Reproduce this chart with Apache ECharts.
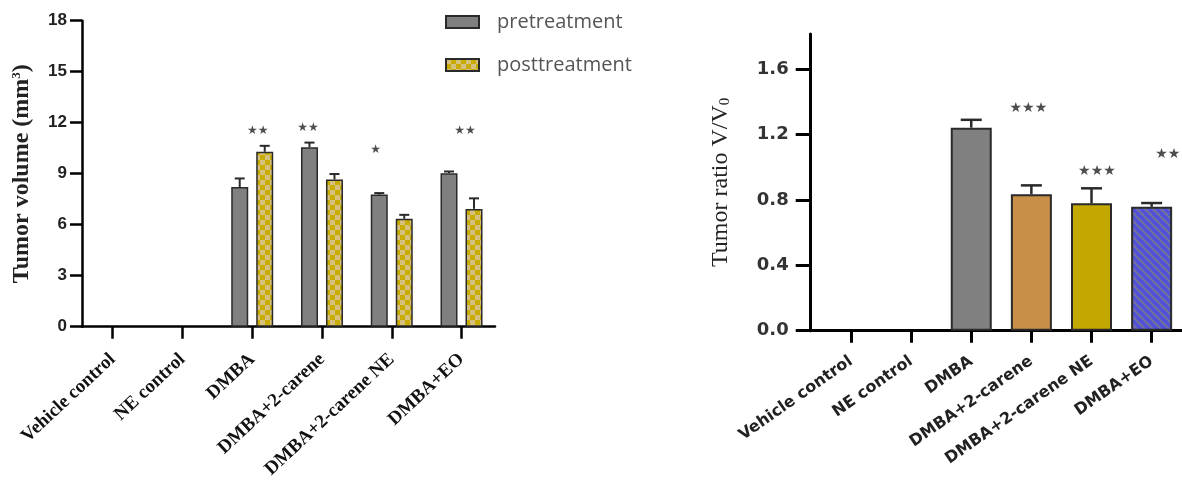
<!DOCTYPE html>
<html>
<head>
<meta charset="utf-8">
<script src="https://cdn.jsdelivr.net/npm/echarts@6/dist/echarts.min.js"></script>
<style>
  html, body { margin: 0; padding: 0; background: #fff; }
  #chart { width: 1182px; height: 480px; }
</style>
</head>
<body>
<div id="chart"></div>
<script>
// Groups on both panels
const groups = ['Vehicle control', 'NE control', 'DMBA', 'DMBA+2-carene', 'DMBA+2-carene NE', 'DMBA+EO'];

// Left panel: tumour volume (mm3), mean and SEM
const preMean  = [null, null, 8.22, 10.56, 7.77, 9.03];
const preSem   = [null, null, 0.50, 0.27, 0.09, 0.10];
const postMean = [null, null, 10.29, 8.66, 6.35, 6.93];
const postSem  = [null, null, 0.35, 0.32, 0.23, 0.62];
const volTicks = [0, 3, 6, 9, 12, 15, 18];

// Left panel significance marks: [group position, height, text]
const volSigX = [2.08, 2.80, 3.77, 5.05];
const volSigY = [11.5, 11.7, 10.4, 11.5];
const volSigText = ['★★', '★★', '★', '★★'];

// Right panel: tumour ratio V/V0, mean and SEM
const ratioMean = [null, null, 1.242, 0.834, 0.779, 0.758];
const ratioSem  = [null, null, 0.048, 0.055, 0.092, 0.023];
const ratioTicks = [0, 0.4, 0.8, 1.2, 1.6];

const ratioSigX = [2.95, 4.09, 5.27];
const ratioSigY = [1.36, 0.977, 1.08];
const ratioSigText = ['★★★', '★★★', '★★'];

// Fill patterns
function checker() {
  const c = document.createElement('canvas');
  c.width = 10; c.height = 10;
  const g = c.getContext('2d');
  g.fillStyle = '#c8ad00'; g.fillRect(0, 0, 10, 10);
  g.fillStyle = '#d5c07e';
  g.fillRect(0, 0, 5, 5); g.fillRect(5, 5, 5, 5);
  return c;
}
function hatch() {
  const c = document.createElement('canvas');
  c.width = 8; c.height = 8;
  const g = c.getContext('2d');
  g.fillStyle = '#5252d8'; g.fillRect(0, 0, 8, 8);
  g.strokeStyle = '#74749a'; g.lineWidth = 2;
  for (let k = -1; k <= 1; k++) {
    g.beginPath(); g.moveTo(k * 8, 0); g.lineTo(k * 8 + 8, 8); g.stroke();
  }
  return c;
}

const checkerFill = { image: checker(), repeat: 'repeat' };
const hatchFill = { image: hatch(), repeat: 'repeat' };
const ratioColors = ['#808080', '#808080', '#808080', '#c98f48', '#c2a800', hatchFill];

const pairs = (arr) => arr.map((v, i) => [i, v]).filter(d => d[1] != null);
const triples = (m, s) => m.map((v, i) => [i, v, s[i]]).filter(d => d[1] != null);
const sigData = (xs, ys, ts) => xs.map((x, i) => ({ value: [x, ys[i]], label: { formatter: ts[i] } }));

// Upward-only SEM bar with a cap
function errorRenderer(shift, cap, lw) {
  return function (params, api) {
    const x = api.value(0), m = api.value(1), s = api.value(2);
    const a = api.coord([x, m]);
    const b = api.coord([x, m + s]);
    const cx = a[0] + shift;
    const style = { stroke: '#2a2a2a', lineWidth: lw };
    return {
      type: 'group',
      children: [
        { type: 'line', shape: { x1: cx, y1: a[1], x2: cx, y2: b[1] }, style },
        { type: 'line', shape: { x1: cx - cap / 2, y1: b[1], x2: cx + cap / 2, y2: b[1] }, style }
      ]
    };
  };
}

const sansBold = { fontFamily: 'DejaVu Sans, Verdana, sans-serif', fontWeight: 'bold' };
const serifBold = { fontFamily: 'Liberation Serif, Times New Roman, serif', fontWeight: 'bold' };

const LBAR = 17, LGAP = 8;
const lShift = (LBAR + LGAP) / 2;

const chart = echarts.init(document.getElementById('chart'), null, { renderer: 'canvas' });

chart.setOption({
  animation: false,
  backgroundColor: '#fff',
  legend: {
    data: ['pretreatment', 'posttreatment'],
    orient: 'vertical',
    left: 445, top: 12, padding: 0,
    itemWidth: 33, itemHeight: 12,
    itemGap: 23,
    icon: 'rect',
    textStyle: { fontFamily: 'Open Sans, sans-serif', fontSize: 20, color: '#555', padding: [0, 0, 0, 13] }
  },
  grid: [
    { left: 82, top: 20.7, width: 413, height: 306, outerBoundsMode: 'none' },
    { left: 810.7, top: 34, width: 371, height: 296.7, outerBoundsMode: 'none' }
  ],
  xAxis: [
    {
      gridIndex: 0, type: 'value', min: -0.44, max: 5.48,
      splitLine: { show: false },
      axisLine: { show: true, onZero: false, lineStyle: { color: '#000', width: 2.5 } },
      axisTick: { show: true, customValues: [0, 1, 2, 3, 4, 5], length: 12, lineStyle: { color: '#000', width: 2.5 } },
      axisLabel: {
        customValues: [0, 1, 2, 3, 4, 5], formatter: v => groups[v],
        rotate: 43, margin: 30, fontSize: 19, color: '#111', ...serifBold
      }
    },
    {
      gridIndex: 1, type: 'value', min: -0.67, max: 5.5,
      splitLine: { show: false },
      axisLine: { show: true, onZero: false, lineStyle: { color: '#000', width: 3 } },
      axisTick: { show: true, customValues: [0, 1, 2, 3, 4, 5], length: 12, lineStyle: { color: '#000', width: 3 } },
      axisLabel: {
        customValues: [0, 1, 2, 3, 4, 5], formatter: v => groups[v],
        rotate: 35, margin: 29, fontSize: 16, color: '#222', ...sansBold
      }
    }
  ],
  yAxis: [
    {
      gridIndex: 0, type: 'value', min: 0, max: 18,
      splitLine: { show: false },
      axisLine: { show: true, onZero: false, lineStyle: { color: '#000', width: 2.5 } },
      axisTick: { show: true, customValues: volTicks, length: 12, lineStyle: { color: '#000', width: 2.5 } },
      axisLabel: { customValues: volTicks, margin: 15, fontSize: 17, color: '#222', fontFamily: 'Liberation Sans, Arial, sans-serif', fontWeight: 'bold' },
      name: 'Tumor volume (mm{sup|3})',
      nameLocation: 'middle', nameGap: 48,
      nameTextStyle: {
        fontSize: 24, color: '#222', ...serifBold,
        rich: { sup: { fontSize: 13, verticalAlign: 'top', padding: [0, 0, 11, 0], color: '#222', ...serifBold } }
      }
    },
    {
      gridIndex: 1, type: 'value', min: 0, max: 1.815,
      splitLine: { show: false },
      axisLine: { show: true, onZero: false, lineStyle: { color: '#000', width: 3 } },
      axisTick: { show: true, customValues: ratioTicks, length: 15, lineStyle: { color: '#000', width: 3 } },
      axisLabel: { customValues: ratioTicks, formatter: v => v.toFixed(1), margin: 22, fontSize: 18, color: '#333', ...sansBold },
      name: 'Tumor ratio V/V{sub|0}',
      nameLocation: 'middle', nameGap: 78,
      nameTextStyle: {
        fontSize: 24, color: '#222', fontFamily: 'Liberation Serif, Times New Roman, serif',
        rich: { sub: { fontSize: 15, verticalAlign: 'bottom', padding: [9, 0, 0, 0], color: '#222', fontFamily: 'Liberation Serif, serif' } }
      }
    }
  ],
  series: [
    {
      name: 'pretreatment', type: 'bar', xAxisIndex: 0, yAxisIndex: 0,
      barWidth: LBAR, barGap: (LGAP / LBAR * 100).toFixed(0) + '%',
      itemStyle: { color: '#808080', borderColor: '#2a2a2a', borderWidth: 1.5 },
      data: pairs(preMean)
    },
    {
      name: 'posttreatment', type: 'bar', xAxisIndex: 0, yAxisIndex: 0,
      barWidth: LBAR, barGap: (LGAP / LBAR * 100).toFixed(0) + '%',
      itemStyle: { color: checkerFill, borderColor: '#2a2a2a', borderWidth: 1.5 },
      data: pairs(postMean)
    },
    {
      type: 'custom', xAxisIndex: 0, yAxisIndex: 0, z: 5,
      renderItem: errorRenderer(-lShift, 10, 2), data: triples(preMean, preSem)
    },
    {
      type: 'custom', xAxisIndex: 0, yAxisIndex: 0, z: 5,
      renderItem: errorRenderer(lShift, 10, 2), data: triples(postMean, postSem)
    },
    {
      type: 'scatter', xAxisIndex: 0, yAxisIndex: 0, symbolSize: 1,
      itemStyle: { color: 'rgba(0,0,0,0)' },
      label: { show: true, position: 'inside', fontSize: 12, color: '#222', fontFamily: 'DejaVu Sans' },
      data: sigData(volSigX, volSigY, volSigText)
    },
    {
      name: 'ratio', type: 'bar', xAxisIndex: 1, yAxisIndex: 1,
      barWidth: 41,
      itemStyle: { borderColor: '#2a2a2a', borderWidth: 2 },
      data: ratioMean.map((v, i) => ({ value: [i, v], itemStyle: { color: ratioColors[i] } })).filter(d => d.value[1] != null)
    },
    {
      type: 'custom', xAxisIndex: 1, yAxisIndex: 1, z: 5,
      renderItem: errorRenderer(0, 21, 2.5), data: triples(ratioMean, ratioSem)
    },
    {
      type: 'scatter', xAxisIndex: 1, yAxisIndex: 1, symbolSize: 1,
      itemStyle: { color: 'rgba(0,0,0,0)' },
      label: { show: true, position: 'inside', fontSize: 14, color: '#222', fontFamily: 'DejaVu Sans' },
      data: sigData(ratioSigX, ratioSigY, ratioSigText)
    }
  ]
});
</script>
</body>
</html>
